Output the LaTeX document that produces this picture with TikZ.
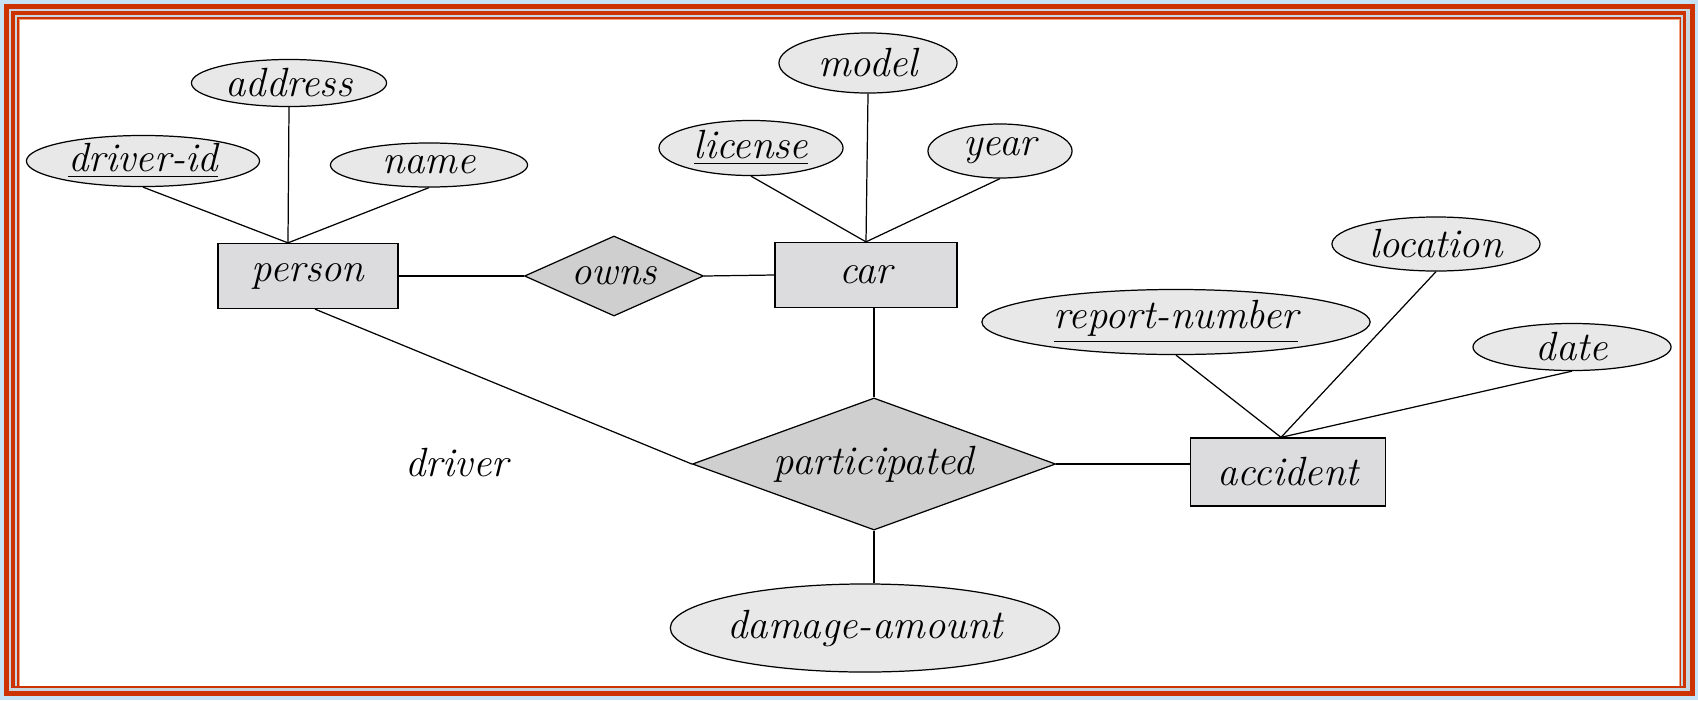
\documentclass[tikz,border=0pt]{standalone}
\usetikzlibrary{shapes.geometric}

\definecolor{bgblue}{HTML}{C6E2F4}
\definecolor{framered}{HTML}{CC3300}
\definecolor{framelight}{HTML}{C8D6E0}
\definecolor{framepeach}{HTML}{F2A37E}
\definecolor{attrfill}{HTML}{E8E8E8}
\definecolor{entfill}{HTML}{DCDBDD}
\definecolor{relfill}{HTML}{CFCFCF}

\begin{document}
\begin{tikzpicture}[
    x=0.01cm, y=-0.01cm,
    every node/.style={font=\fontsize{11.6}{14}\selectfont\itshape},
    attr/.style 2 args={ellipse, draw=black, fill=attrfill, line width=0.35pt, inner sep=0pt, minimum width=#1, minimum height=#2},
    entity/.style 2 args={rectangle, draw=black, fill=entfill, line width=0.35pt, inner sep=0pt, minimum width=#1, minimum height=#2},
    rel/.style 2 args={diamond, draw=black, fill=relfill, line width=0.35pt, inner sep=0pt, aspect=2.5, minimum width=#1, minimum height=#2},
    link/.style={draw=black, line width=0.35pt}
]
    % Frame
    \useasboundingbox (0,0) rectangle (1698,700);
    \fill[bgblue] (0,0) rectangle (1698,700);
    \fill[framered] (4,4) rectangle (1695,696);
    \fill[framelight] (9,9) rectangle (1690,691);
    \fill[framered] (11,11) rectangle (1686,688);
    \fill[framelight] (15,15) rectangle (1683,686);
    \fill[framered] (17,17) rectangle (1681,686);
    \fill[framepeach] (19,19) rectangle (1680,686);
    \fill[white] (20,20) rectangle (1679,686);

    % Entities and relationships
    \node[entity={1.80cm}{0.65cm}] (person) at (308,276) {person};
    \node[rel={1.79cm}{0.80cm}] (owns) at (614,276) {owns};
    \node[entity={1.82cm}{0.65cm}] (car) at (866,275) {car};
    \node[rel={3.63cm}{1.32cm}] (part) at (874,464) {participated};
    \node[entity={1.95cm}{0.68cm}] (accident) at (1288,472) {accident};

    % Attributes
    \node[attr={1.95cm}{0.47cm}] (address) at (289,83) {address};
    \node[attr={2.33cm}{0.51cm}] (driverid) at (143,161) {\underline{driver-id}};
    \node[attr={1.97cm}{0.44cm}] (name) at (429,165) {name};
    \node[attr={1.78cm}{0.60cm}] (model) at (868,63) {model};
    \node[attr={1.84cm}{0.55cm}] (license) at (751,148) {\underline{license}};
    \node[attr={1.44cm}{0.54cm}] (year) at (1000,151) {year};
    \node[attr={2.08cm}{0.54cm}] (location) at (1436,244) {location};
    \node[attr={3.88cm}{0.65cm}] (repno) at (1176,322) {\underline{report-number}};
    \node[attr={1.98cm}{0.47cm}] (date) at (1572,347) {date};
    \node[attr={3.88cm}{0.88cm}] (damage) at (865,628) {damage-amount};

    % Role label
    \node (driver) at (457,463) {driver};

    % Meeting points on the entities
    \coordinate (ptop) at ([xshift=-0.2cm]person.north);
    \coordinate (atop) at ([xshift=-0.07cm]accident.north);

    % Connectors
    \draw[link] (driverid.south) -- (ptop);
    \draw[link] (address.south) -- (ptop);
    \draw[link] (name.south) -- (ptop);
    \draw[link] (person.east) -- (owns.west);
    \draw[link] (owns.east) -- (car.west);
    \draw[link] (license.south) -- (car.north);
    \draw[link] (model.south) -- (car.north);
    \draw[link] (year.south) -- (car.north);
    \draw[link] (part.north) -- (part.north |- car.south);
    \draw[link] ([xshift=0.07cm]person.south) -- (part.west);
    \draw[link] (part.east) -- (part.east -| accident.west);
    \draw[link] (part.south) -- (part.south |- damage.north);
    \draw[link] (repno.south) -- (atop);
    \draw[link] (location.south) -- (atop);
    \draw[link] (date.south) -- (atop);
\end{tikzpicture}
\end{document}
